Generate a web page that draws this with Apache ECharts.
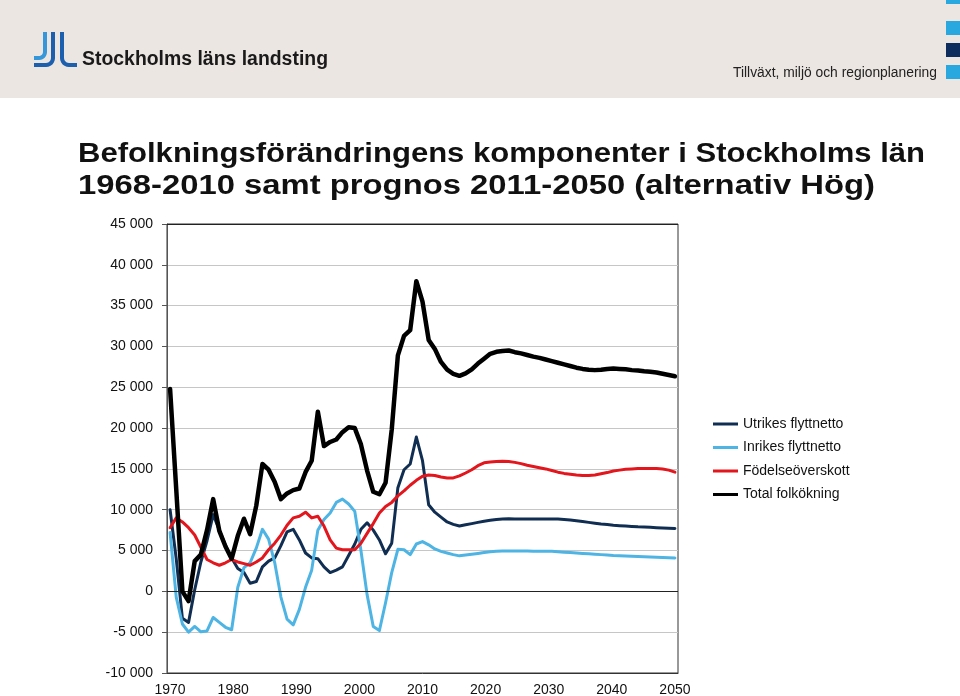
<!DOCTYPE html>
<html><head><meta charset="utf-8">
<script src="https://cdn.jsdelivr.net/npm/echarts@6/dist/echarts.min.js"></script>
<style>html,body{margin:0;padding:0;background:#fff}#c{width:960px;height:696px}</style>
</head><body><div id="c"></div>
<script>
const years = [
 1968,1969,1970,1971,1972,1973,1974,1975,1976,1977,
 1978,1979,1980,1981,1982,1983,1984,1985,1986,1987,
 1988,1989,1990,1991,1992,1993,1994,1995,1996,1997,
 1998,1999,2000,2001,2002,2003,2004,2005,2006,2007,
 2008,2009,2010,2011,2012,2013,2014,2015,2016,2017,
 2018,2019,2020,2021,2022,2023,2024,2025,2026,2027,
 2028,2029,2030,2031,2032,2033,2034,2035,2036,2037,
 2038,2039,2040,2041,2042,2043,2044,2045,2046,2047,
 2048,2049,2050];
const utrikes = [
 10000,4000,-3300,-3800,200,3600,6200,9400,7500,5600,
 4100,2800,2300,1000,1200,3000,3700,4100,5600,7300,
 7600,6300,4700,4100,4000,3000,2300,2600,3000,4400,
 5800,7600,8400,7500,6300,4600,5900,12700,14900,15600,
 18900,16000,10600,9700,9100,8500,8200,8000,8150,8300,
 8450,8600,8700,8800,8850,8900,8850,8850,8850,8850,
 8850,8850,8850,8850,8800,8750,8650,8550,8450,8350,
 8250,8200,8100,8050,8000,7950,7900,7870,7840,7800,
 7770,7740,7700];
const inrikes = [
 7200,-700,-4000,-5000,-4300,-4950,-4850,-3200,-3800,-4400,
 -4700,500,2900,3500,5300,7600,6400,3500,-700,-3400,
 -4100,-2200,500,2600,7500,8800,9600,10900,11300,10700,
 9800,5000,-400,-4300,-4800,-1400,2300,5150,5100,4500,
 5800,6100,5700,5200,4900,4700,4500,4350,4450,4550,
 4650,4750,4850,4900,4950,4950,4950,4950,4950,4900,
 4900,4900,4900,4850,4800,4750,4700,4650,4600,4550,
 4500,4450,4400,4370,4340,4300,4270,4240,4210,4180,
 4150,4120,4100];
const fodelse = [
 7800,9000,8500,7800,6900,5400,3900,3500,3200,3500,
 3900,3600,3400,3200,3600,4100,5100,5900,6900,8100,
 9000,9200,9700,9000,9200,8000,6300,5300,5100,5100,
 5100,5900,7100,8300,9600,10400,10900,11700,12300,13000,
 13600,14100,14250,14200,14000,13900,13900,14150,14500,14900,
 15400,15750,15850,15900,15950,15900,15800,15650,15450,15300,
 15150,15000,14800,14600,14450,14350,14250,14200,14200,14250,
 14400,14550,14750,14850,14950,15000,15050,15050,15050,15050,
 15000,14850,14600];
const total = [
 24800,12500,0,-1200,3700,4500,7500,11300,7400,5500,
 4000,6800,8900,7000,10500,15600,14900,13400,11300,12000,
 12400,12600,14600,16000,22000,17800,18300,18600,19500,20100,
 20000,18000,14800,12200,11900,13300,19800,28900,31300,32000,
 38000,35500,30800,29700,28100,27150,26650,26400,26700,27200,
 27900,28500,29100,29350,29450,29500,29300,29150,28950,28750,
 28600,28400,28200,28000,27800,27600,27400,27250,27150,27100,
 27150,27250,27300,27250,27200,27100,27050,26950,26900,26800,
 26650,26500,26350];
const seriesNames = ['Utrikes flyttnetto','Inrikes flyttnetto','Födelseöverskott','Total folkökning'];
const xTickLabels = ['1970','1980','1990','2000','2010','2020','2030','2040','2050'];
const titleLines = ['Befolkningsförändringens komponenter i Stockholms län','1968-2010 samt prognos 2011-2050 (alternativ Hög)'];
const orgName = 'Stockholms läns landsting';
const deptName = 'Tillväxt, miljö och regionplanering';

const first = years[0], last = years[years.length-1];
const xTickPos = xTickLabels.map((l,i)=> first + i*(last-first)/(xTickLabels.length-1));
const pairs = arr => arr.map((v,i)=>[years[i], v]);
const fmtY = v => v === 0 ? '0' : (v<0?'-':'') + (Math.abs(v)/1000) + ' 000';
const colors = ['#102d52','#4db4e4','#e2161c','#000000'];
const widths = [3,3,3,4.5];
const allData = [utrikes, inrikes, fodelse, total];
const FONT = 'Liberation Sans';
const Y_MIN = -10000, Y_MAX = 45000, Y_STEP = 5000;

const mctx = document.createElement('canvas').getContext('2d');
function textW(weight, size, t){ mctx.font = weight + ' ' + size + 'px "' + FONT + '"'; return mctx.measureText(t).width; }
function fitText(t, x, y, size, weight, targetW, fill){
  const s = targetW / textW(weight, size, t);
  return {type:'text', x:x, y:y, scaleX:s, z:2,
    style:{text:t, fontFamily:FONT, fontSize:size, fontWeight:weight, fill:fill,
      align:'left', verticalAlign:'middle', textAlign:'left', textVerticalAlign:'middle'}};
}

const chart = echarts.init(document.getElementById('c'), null, {renderer:'canvas'});
const series = allData.map((d,i)=>{
  const s = {
    name: seriesNames[i], type:'line', data: pairs(d), showSymbol:false, symbol:'none',
    lineStyle:{color:colors[i], width:widths[i], join:'round', cap:'round'},
    itemStyle:{color:colors[i]}, z: 3+i
  };
  if (i===0) s.markLine = {silent:true, symbol:'none', label:{show:false},
     lineStyle:{color:'#222', type:'solid', width:1}, data:[{yAxis:0},{yAxis:Y_MAX}]};
  return s;
});

function curve(x0, yTop, yBend, dir, len, r){
  const pts = [[x0,yTop],[x0,yBend-r]];
  for (let k=1;k<=6;k++){ const a=k/6*Math.PI/2; pts.push([x0 + dir*r*(1-Math.cos(a)), yBend - r + r*Math.sin(a)]); }
  pts.push([x0+dir*len, yBend]);
  return pts;
}

chart.setOption({
  animation:false,
  backgroundColor:'#ffffff',
  legend:{orient:'vertical', left:708, top:412, icon:'rect', itemWidth:25, itemHeight:3, itemGap:9.5,
    data: seriesNames, textStyle:{fontFamily:FONT, fontSize:14, color:'#111'}},
  grid:{left:167, right:282, top:224, bottom:23, outerBoundsMode:'none', containLabel:false,
    show:true, borderColor:'#333', borderWidth:1, backgroundColor:'transparent'},
  xAxis:{type:'value', min:first-0.5, max:last+0.5,
    axisLine:{show:true, onZero:false, lineStyle:{color:'#333'}},
    axisTick:{show:false}, splitLine:{show:false},
    axisLabel:{customValues:xTickPos, fontFamily:FONT, fontSize:14, color:'#111', margin:10,
      formatter:(v)=>{ let k=0,b=1e9; xTickPos.forEach((p,i)=>{const d=Math.abs(p-v); if(d<b){b=d;k=i;}}); return xTickLabels[k]; }}},
  yAxis:{type:'value', min:Y_MIN, max:Y_MAX, interval:Y_STEP,
    axisLine:{show:true, lineStyle:{color:'#555'}},
    axisTick:{show:true, length:5, lineStyle:{color:'#555'}},
    splitLine:{lineStyle:{color:'#c6c6c6', width:1}},
    axisLabel:{formatter:fmtY, fontFamily:FONT, fontSize:14, color:'#111', margin:14}},
  graphic:[
    {type:'rect', left:0, top:0, shape:{width:960, height:98}, style:{fill:'#ebe6e2'}, z:-10, silent:true},
    {type:'polyline', shape:{points:curve(45,32,58,-1,11,6)}, style:{stroke:'#3597da', lineWidth:4, fill:null}, z:1},
    {type:'polyline', shape:{points:curve(53,32,65,-1,19,7)}, style:{stroke:'#1c5fae', lineWidth:4, fill:null}, z:1},
    {type:'polyline', shape:{points:curve(62,32,65,1,15,7)}, style:{stroke:'#1c5fae', lineWidth:4, fill:null}, z:1},
    fitText(orgName, 82, 59, 20, 'bold', 246, '#1a1a1a'),
    fitText(deptName, 733, 73, 14, 'normal', 204, '#222'),
    fitText(titleLines[0], 78, 155, 27, 'bold', 847, '#111'),
    fitText(titleLines[1], 78, 187, 27, 'bold', 797, '#111'),
    {type:'rect', left:946, top:0, shape:{width:14, height:4}, style:{fill:'#29a8e0'}, z:1},
    {type:'rect', left:946, top:21, shape:{width:14, height:14}, style:{fill:'#29a8e0'}, z:1},
    {type:'rect', left:946, top:43, shape:{width:14, height:14}, style:{fill:'#0d2d5e'}, z:1},
    {type:'rect', left:946, top:65, shape:{width:14, height:14}, style:{fill:'#29a8e0'}, z:1}
  ],
  series: series
});
</script></body></html>
